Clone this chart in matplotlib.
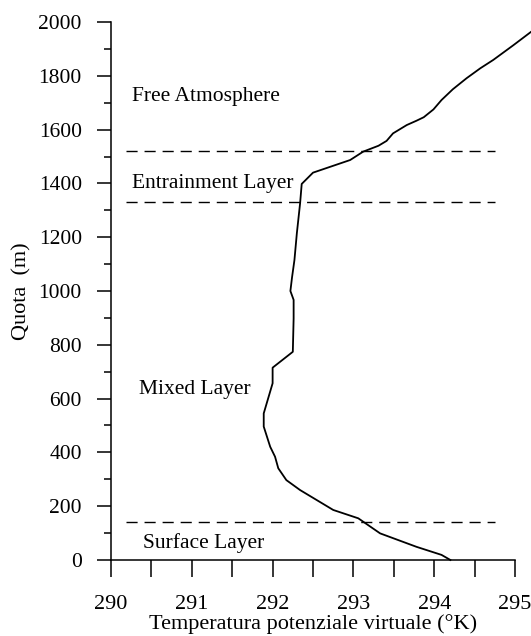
import matplotlib
matplotlib.use("Agg")
import matplotlib.pyplot as plt
from matplotlib.ticker import MultipleLocator

plt.rcParams['font.family'] = ['Liberation Serif', 'DejaVu Serif']

# virtual potential temperature profile (K) vs height (m)
theta_v = [294.20, 294.09, 293.78, 293.33, 293.06, 292.75, 292.34, 292.17,
           292.07, 292.03, 291.97, 291.89, 291.89, 292.00, 292.00, 292.25,
           292.26, 292.26, 292.22, 292.24, 292.27, 292.30, 292.34,
           292.36, 292.50, 292.96, 293.12, 293.31, 293.41, 293.49, 293.66,
           293.78, 293.87, 293.99, 294.09, 294.23, 294.40, 294.57, 294.73,
           294.98, 295.20]
quota = [0, 19, 49, 99, 155, 186, 260, 297,
         341, 384, 421, 496, 545, 657, 715, 774,
         898, 967, 1000, 1050, 1115, 1215, 1326,
         1398, 1440, 1487, 1518, 1540, 1558, 1586, 1617,
         1633, 1646, 1675, 1710, 1750, 1791, 1828, 1859,
         1914, 1964]

# layer boundaries and labels
boundaries = [142, 1330, 1521]
layer_names = ["Surface Layer", "Mixed Layer", "Entrainment Layer", "Free Atmosphere"]
layer_x = [290.40, 290.35, 290.26, 290.26]
layer_y = [64, 632, 1401, 1722]

fig = plt.figure(figsize=(5.31, 6.36), dpi=100)
ax = fig.add_axes([0.209, 0.1195, 0.761, 0.8459])

ax.plot(theta_v, quota, color='black', lw=1.3, clip_on=False)

for b in boundaries:
    ax.plot([290.19, 294.75], [b, b], color='black', lw=1.0, dashes=(8, 5))

for name, x, y in zip(layer_names, layer_x, layer_y):
    ax.text(x, y, name, fontsize=15.5, va='center', ha='left')

ax.set_xlim(290, 295)
ax.set_ylim(0, 2000)

ax.spines['top'].set_visible(False)
ax.spines['right'].set_visible(False)
for s in ['left', 'bottom']:
    ax.spines[s].set_linewidth(1.1)

ax.xaxis.set_major_locator(MultipleLocator(1))
ax.xaxis.set_minor_locator(MultipleLocator(0.5))
ax.yaxis.set_major_locator(MultipleLocator(200))
ax.yaxis.set_minor_locator(MultipleLocator(100))

ax.tick_params(axis='x', which='both', direction='out', length=12, width=1.1,
               pad=13, labelsize=16)
ax.tick_params(axis='y', which='major', direction='out', length=10, width=1.1,
               pad=11, labelsize=15.5)
ax.tick_params(axis='y', which='minor', direction='out', length=5, width=1.1)

ax.set_xlabel("Temperatura potenziale virtuale (°K)", fontsize=16, labelpad=0)
ax.set_ylabel("Quota  (m)", fontsize=16, labelpad=5)

fig.savefig("out.png", dpi=100)
